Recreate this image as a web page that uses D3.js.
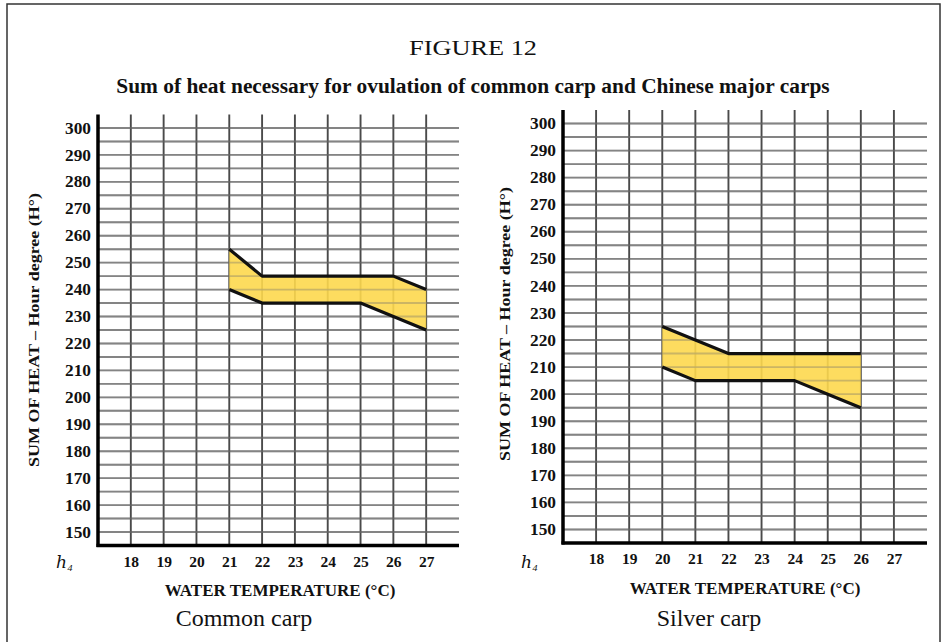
<!DOCTYPE html>
<html>
<head>
<meta charset="utf-8">
<script src="https://cdn.jsdelivr.net/npm/d3@7"></script>
<style>
  body { margin: 0; background: #fff; }
  svg { display: block; }
  text { font-family: "Liberation Serif", "DejaVu Serif", serif; fill: #111; }
</style>
</head>
<body>
<svg id="chart" width="946" height="642"></svg>
<script>
// tick labels
const tempTicks = [18, 19, 20, 21, 22, 23, 24, 25, 26, 27];
const heatTicks = [150, 160, 170, 180, 190, 200, 210, 220, 230, 240, 250, 260, 270, 280, 290, 300];

// common carp band (upper / lower limit, hour degrees)
const commonTemp = [21, 22, 23, 24, 25, 26, 27];
const commonUpper = [255, 245, 245, 245, 245, 245, 240];
const commonLower = [240, 235, 235, 235, 235, 230, 225];

// silver carp band
const silverTemp = [20, 21, 22, 23, 24, 25, 26];
const silverUpper = [225, 220, 215, 215, 215, 215, 215];
const silverLower = [210, 205, 205, 205, 205, 200, 195];

let svg = d3.select("#chart");

// outer frame
svg.append("rect")
  .attr("x", 7).attr("y", 4)
  .attr("width", 933).attr("height", 660)
  .attr("fill", "none")
  .attr("stroke", "#333")
  .attr("stroke-width", 1.5);

svg.append("text")
  .attr("x", 473).attr("y", 55)
  .attr("text-anchor", "middle")
  .attr("font-size", 21)
  .attr("textLength", 128)
  .attr("lengthAdjust", "spacingAndGlyphs")
  .text("FIGURE 12");

svg.append("text")
  .attr("x", 473).attr("y", 93)
  .attr("text-anchor", "middle")
  .attr("font-size", 21.4)
  .attr("font-weight", "bold")
  .text("Sum of heat necessary for ovulation of common carp and Chinese major carps");

function drawPanel(opt, temps, upper, lower) {
  let x = d3.scaleLinear().domain([17, 28]).range([opt.left, opt.right]);
  let y = d3.scaleLinear().domain([145, 305]).range([opt.bottom, opt.top]);

  let g = svg.append("g");

  // horizontal grid every 5
  let minor = d3.range(150, 301, 5);
  g.selectAll("line.h")
    .data(minor)
    .enter().append("line")
    .attr("class", "h")
    .attr("x1", x(17)).attr("x2", x(28))
    .attr("y1", d => y(d)).attr("y2", d => y(d))
    .attr("stroke", "#858585")
    .attr("stroke-width", 1.9);

  // vertical grid
  g.selectAll("line.v")
    .data(tempTicks)
    .enter().append("line")
    .attr("class", "v")
    .attr("x1", d => x(d)).attr("x2", d => x(d))
    .attr("y1", y(145)).attr("y2", y(305))
    .attr("stroke", "#4a4a4a")
    .attr("stroke-width", 1.9);

  let rows = temps.map((t, i) => ({t: t, hi: upper[i], lo: lower[i]}));

  let area = d3.area()
    .x(d => x(d.t))
    .y0(d => y(d.lo))
    .y1(d => y(d.hi));

  g.append("path")
    .datum(rows)
    .attr("d", area)
    .attr("fill", "#fdd84e")
    .attr("fill-opacity", 0.9);

  // grid shows faintly through the fill, as in the printed figure
  g.selectAll("line.ho")
    .data(minor)
    .enter().append("line")
    .attr("x1", x(17)).attr("x2", x(28))
    .attr("y1", d => y(d)).attr("y2", d => y(d))
    .attr("stroke", "#858585")
    .attr("stroke-opacity", 0.35)
    .attr("stroke-width", 1.9);

  let lineHi = d3.line().x(d => x(d.t)).y(d => y(d.hi));
  let lineLo = d3.line().x(d => x(d.t)).y(d => y(d.lo));
  [lineHi, lineLo].forEach(fn => {
    g.append("path")
      .datum(rows)
      .attr("d", fn)
      .attr("fill", "none")
      .attr("stroke", "#111")
      .attr("stroke-width", 3.2)
      .attr("stroke-linejoin", "round");
  });

  let yAxis = d3.axisLeft(y).tickValues(heatTicks).tickSize(0).tickPadding(7);
  let ya = g.append("g")
    .attr("transform", "translate(" + opt.left + ",0)")
    .call(yAxis);
  ya.select(".domain").remove();
  ya.selectAll("text")
    .attr("font-family", "Liberation Serif")
    .attr("font-size", 16)
    .attr("font-weight", "bold")
    .attr("textLength", 26)
    .attr("lengthAdjust", "spacingAndGlyphs")
    .attr("fill", "#222");

  let xAxis = d3.axisBottom(x).tickValues(tempTicks).tickSize(0).tickPadding(10);
  let xa = g.append("g")
    .attr("transform", "translate(0," + opt.bottom + ")")
    .call(xAxis);
  xa.select(".domain").remove();
  xa.selectAll("text")
    .attr("font-family", "Liberation Serif")
    .attr("font-size", 15.5)
    .attr("font-weight", "bold")
    .attr("fill", "#222");

  // axes drawn as thick black lines
  g.append("line")
    .attr("x1", opt.left).attr("x2", opt.left)
    .attr("y1", y(305)).attr("y2", y(145) + 1.5)
    .attr("stroke", "#000").attr("stroke-width", 3.5);
  g.append("line")
    .attr("x1", opt.left - 1.5).attr("x2", x(28))
    .attr("y1", y(145)).attr("y2", y(145))
    .attr("stroke", "#000").attr("stroke-width", 3.5);

  // axis titles
  g.append("text")
    .attr("transform", "translate(" + opt.ytx + "," + opt.yty + ") rotate(-90)")
    .attr("text-anchor", "middle")
    .attr("dy", "0.35em")
    .attr("font-size", 15.5)
    .attr("font-weight", "bold")
    .attr("textLength", 274)
    .attr("lengthAdjust", "spacingAndGlyphs")
    .text("SUM OF HEAT \u2013  Hour degree (H\u00b0)");

  g.append("text")
    .attr("x", opt.xtx).attr("y", opt.xty)
    .attr("text-anchor", "middle")
    .attr("dy", "0.35em")
    .attr("font-size", 17)
    .attr("font-weight", "bold")
    .text("WATER TEMPERATURE (\u00b0C)");

  g.append("text")
    .attr("x", opt.xtx - 36).attr("y", 618)
    .attr("text-anchor", "middle")
    .attr("dy", "0.35em")
    .attr("font-size", 24)
    .text(opt.name);

  // little stray pen mark at the origin corner
  g.append("text")
    .attr("x", opt.left - 42).attr("y", 568)
    .attr("font-size", 17)
    .attr("font-style", "italic")
    .attr("fill", "#555")
    .text("\u210e\u2084");
}

drawPanel({left: 98, right: 459, top: 114.5, bottom: 545.5,
           ytx: 34, yty: 330, xtx: 280, xty: 590, name: "Common carp"},
          commonTemp, commonUpper, commonLower);

drawPanel({left: 563, right: 927, top: 110, bottom: 543,
           ytx: 505, yty: 324, xtx: 745, xty: 588, name: "Silver carp"},
          silverTemp, silverUpper, silverLower);
</script>
</body>
</html>
